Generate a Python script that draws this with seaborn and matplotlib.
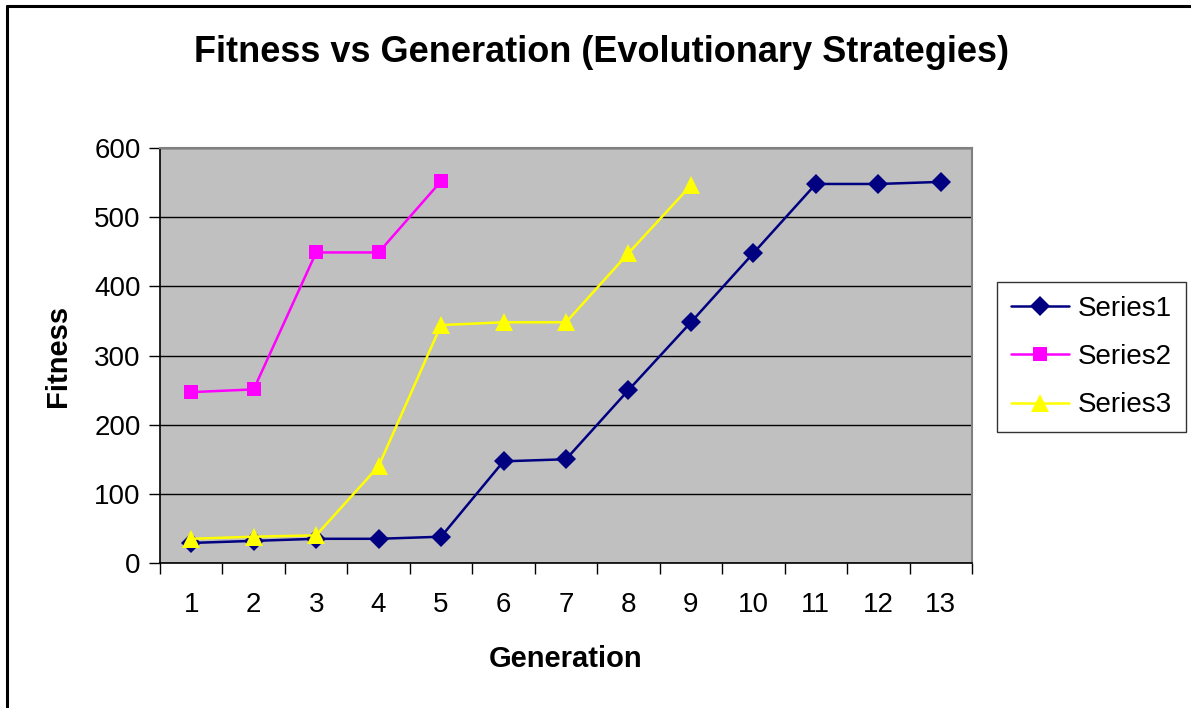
import matplotlib
matplotlib.use("Agg")
import matplotlib.pyplot as plt
import seaborn as sns
import pandas as pd
import numpy as np
from matplotlib.lines import Line2D

generations = list(range(1, 14))
series1 = [29, 32, 35, 35, 38, 147, 150, 250, 348, 448, 548, 548, 551]
series2 = [247, 251, 449, 449, 552]
series3 = [35, 38, 40, 140, 344, 348, 348, 448, 546]
series_names = ["Series1", "Series2", "Series3"]
colors = ["#000080", "#FF00FF", "#FFFF00"]
markers = ["D", "s", "^"]
y_ticks = [0, 100, 200, 300, 400, 500, 600]

rows = []
for name, vals in zip(series_names, [series1, series2, series3]):
    for g, v in zip(generations, vals):
        rows.append({"Generation": g, "Fitness": v, "Series": name})
df = pd.DataFrame(rows)

sns.set_theme(style="white")
plt.rcParams['font.family'] = ['Liberation Sans', 'DejaVu Sans']
plt.rcParams['text.color'] = 'black'
plt.rcParams['axes.labelcolor'] = 'black'
plt.rcParams['xtick.color'] = 'black'
plt.rcParams['ytick.color'] = 'black'

fig = plt.figure(figsize=(11.91, 7.08), dpi=100)
ax = fig.add_axes([160/1191, 1-563/708, (972-160)/1191, (563-148)/708])
ax.set_facecolor("#C0C0C0")

msizes = {"Series1": 10, "Series2": 10, "Series3": 13}
for name, c, m in zip(series_names, colors, markers):
    sub = df[df["Series"] == name]
    sns.lineplot(data=sub, x="Generation", y="Fitness", color=c, marker=m,
                 ax=ax, linewidth=1.8, markersize=msizes[name],
                 markeredgewidth=0, legend=False)

ax.set_xlim(0.5, 13.5)
ax.set_ylim(0, 600)
ax.set_yticks(y_ticks)
ax.set_yticklabels([str(t) for t in y_ticks], fontsize=20)
ax.set_xticks(generations)
ax.set_xticklabels([str(g) for g in generations], fontsize=20)
ax.set_xticks(np.arange(0.5, 14.0, 1.0), minor=True)
ax.tick_params(axis="x", which="major", length=0, pad=21)
ax.tick_params(axis="x", which="minor", length=8, width=1, color="black", direction="out", bottom=True)
ax.tick_params(axis="y", which="major", length=8, width=1, color="black", direction="out", left=True, pad=6)
ax.grid(axis="y", color="black", linewidth=1)
ax.set_axisbelow(True)
for s in ["top", "right"]:
    ax.spines[s].set_color("#808080")
    ax.spines[s].set_linewidth(1.5)
for s in ["left", "bottom"]:
    ax.spines[s].set_color("black")
    ax.spines[s].set_linewidth(1.2)

ax.set_xlabel("Generation", fontsize=21, fontweight="bold", labelpad=19)
ax.set_ylabel("Fitness", fontsize=21, fontweight="bold", labelpad=16)
fig.text(601/1191, 1-53/708, "Fitness vs Generation (Evolutionary Strategies)",
         ha="center", va="center", fontsize=26, fontweight="bold")

handles = [Line2D([0], [0], color=c, marker=m, markersize=msizes[n], linewidth=1.8, markeredgewidth=0)
           for n, c, m in zip(series_names, colors, markers)]
leg = fig.legend(handles, series_names, loc="upper left",
                 bbox_to_anchor=(997/1191, 1-282/708), fontsize=20,
                 frameon=True, fancybox=False, edgecolor="black",
                 handlelength=2.1, borderpad=0.5, labelspacing=0.8,
                 handletextpad=0.3, borderaxespad=0)
leg.get_frame().set_linewidth(1)

fig.add_artist(Line2D([7/1191, 7/1191], [0, 1-6/708], transform=fig.transFigure,
                      color="black", linewidth=2.2))
fig.add_artist(Line2D([7/1191, 1], [1-6/708, 1-6/708], transform=fig.transFigure,
                      color="black", linewidth=2.2))

fig.savefig("out.png", dpi=100)
